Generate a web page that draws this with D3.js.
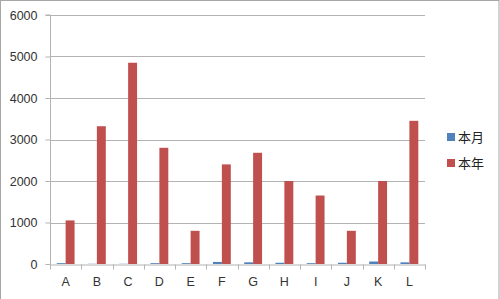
<!DOCTYPE html>
<html><head><meta charset="utf-8">
<script src="https://cdn.jsdelivr.net/npm/d3@7"></script>
<style>body{margin:0;background:#fff}svg{display:block}</style>
</head><body>
<script>
const categories = ["A","B","C","D","E","F","G","H","I","J","K","L"];
const seriesNames = ["本月","本年"];
const monthValues = [20,5,5,20,20,50,40,30,20,30,60,40];
const yearValues = [1050,3320,4850,2800,800,2400,2680,2000,1650,800,2000,3450];
const yTicks = [0,1000,2000,3000,4000,5000,6000];
const colors = ["#4f81bd","#c0504d"];

(function(){
const W=500,H=299;
const svg=d3.select("body").append("svg").attr("width",W).attr("height",H);
svg.append("rect").attr("x",0.5).attr("y",0.5).attr("width",W-1.5).attr("height",H+5)
  .attr("fill","#fff").attr("stroke","#a6a6a6");

const pL=50,pR=425,pT=15,pB=264;
const x=d3.scaleBand().domain(categories).range([pL,pR]);
const y=d3.scaleLinear().domain([0,6000]).range([pB,pT]);
const font="'Liberation Sans', Arial, sans-serif";

svg.append("g").selectAll("line").data(yTicks.filter(d=>d>0)).join("line")
  .attr("x1",pL).attr("x2",pR).attr("y1",d=>Math.round(y(d))+0.5).attr("y2",d=>Math.round(y(d))+0.5)
  .attr("stroke","#b3b3b3").attr("stroke-width",1);

const bw=x.bandwidth();
const barW=bw/3.5;
const offsets=[bw*0.75/3.5, bw*0.75/3.5+barW];
[monthValues,yearValues].forEach((vals,si)=>{
  svg.append("g").selectAll("rect").data(vals).join("rect")
    .attr("x",(d,i)=>x(categories[i])+offsets[si])
    .attr("y",d=>y(d))
    .attr("width",barW)
    .attr("height",d=>pB-y(d))
    .attr("fill",colors[si]);
});

const yAxis=d3.axisLeft(y).tickValues(yTicks).tickSize(5).tickPadding(8).tickFormat(d3.format("d"));
const ya=svg.append("g").attr("transform",`translate(${pL+0.5},0)`).call(yAxis);
ya.select(".domain").attr("stroke","#b3b3b3").attr("d",`M-5,${pT}H0V${pB}`);
ya.selectAll(".tick line").attr("stroke","#b3b3b3");
ya.selectAll(".tick text").attr("font-family",font).attr("font-size",12.5).attr("fill","#333");

const xAxis=d3.axisBottom(x).tickSize(0).tickPadding(13);
const xa=svg.append("g").attr("transform",`translate(0,${pB+0.5})`).call(xAxis);
xa.select(".domain").attr("stroke","#b3b3b3");
xa.selectAll(".tick text").attr("font-family",font).attr("font-size",12.5).attr("fill","#333");
xa.append("g").selectAll("line").data(categories.concat(["_end"])).join("line")
  .attr("x1",(d,i)=>Math.round(pL+i*bw)+0.5).attr("x2",(d,i)=>Math.round(pL+i*bw)+0.5)
  .attr("y1",0).attr("y2",5).attr("stroke","#b3b3b3");

const lg=svg.append("g");
seriesNames.forEach((n,i)=>{
  const yy=133+i*26;
  lg.append("rect").attr("x",447).attr("y",yy).attr("width",8).attr("height",8).attr("fill",colors[i]);
  lg.append("text").attr("x",458).attr("y",yy+4).attr("dy","0.35em").text(n)
    .attr("font-family","'Noto Sans CJK SC', sans-serif").attr("font-size",13).attr("fill","#222");
});
})();
</script>
</body></html>
